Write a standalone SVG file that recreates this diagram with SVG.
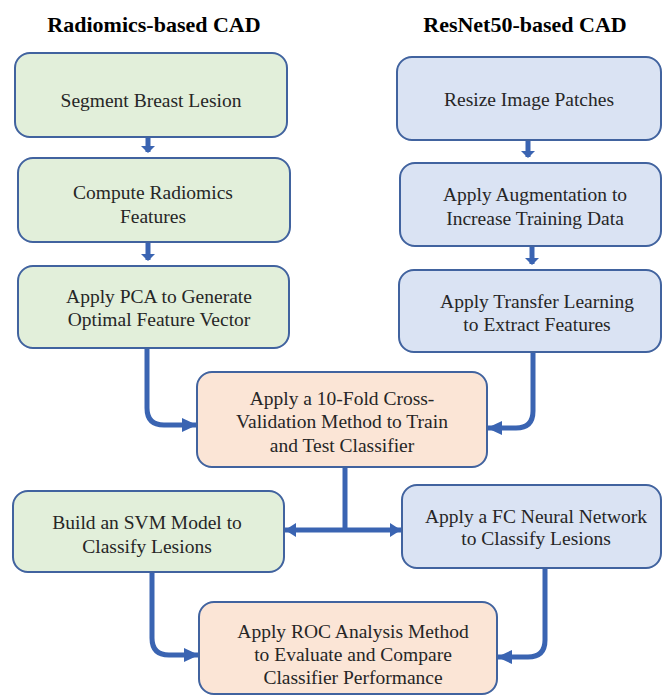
<svg xmlns="http://www.w3.org/2000/svg" width="664" height="695" viewBox="0 0 664 695">
<style>
.box{stroke:#41639f;stroke-width:2}
.g{fill:#e2efda}.b{fill:#dae3f3}.o{fill:#fbe5d6}
.t{font-family:'Liberation Serif','DejaVu Serif',serif;font-size:19.5px;fill:#262626;text-anchor:middle}
.h{font-family:'Liberation Serif','DejaVu Serif',serif;font-size:22px;font-weight:bold;fill:#000;text-anchor:middle}
.c{fill:none;stroke:#3a64b2;stroke-width:5}
</style>
<defs>
<marker id="big" markerUnits="userSpaceOnUse" markerWidth="16" markerHeight="16" refX="14" refY="8" orient="auto-start-reverse" viewBox="0 0 16 16"><path d="M0,1 L15,8 L0,15 Z" fill="#3a64b2"/></marker>
<marker id="mid" markerUnits="userSpaceOnUse" markerWidth="12" markerHeight="16" refX="11" refY="8" orient="auto-start-reverse" viewBox="0 0 12 16"><path d="M0,1 L11,8 L0,15 Z" fill="#3a64b2"/></marker>
<marker id="sm" markerUnits="userSpaceOnUse" markerWidth="12" markerHeight="14" refX="6" refY="7" orient="auto-start-reverse" viewBox="0 0 12 14"><path d="M0,0 L7,7 L0,14 Z" fill="#3a64b2"/></marker>
</defs>

<text class="h" x="154" y="32" font-family="Liberation Serif, serif">Radiomics-based CAD</text>
<text class="h" x="525" y="32" font-family="Liberation Serif, serif">ResNet50-based CAD</text>

<g id="connectors">
<path class="c" d="M148,137 V152" marker-end="url(#sm)"/>
<path class="c" d="M148,242 V260" marker-end="url(#sm)"/>
<path class="c" d="M528,140 V157" marker-end="url(#sm)"/>
<path class="c" d="M532,246 V264" marker-end="url(#sm)"/>
<path class="c" d="M147,348 V408 Q147,425 164,425 H196" marker-end="url(#big)"/>
<path class="c" d="M533,352 V411 Q533,428 516,428 H488" marker-end="url(#big)"/>
<path class="c" d="M345,467 V530"/>
<path class="c" d="M285,530 H401" marker-start="url(#mid)" marker-end="url(#mid)"/>
<path class="c" d="M152,572 V638 Q152,655 169,655 H198" marker-end="url(#big)"/>
<path class="c" d="M545,568 V640 Q545,657 528,657 H498" marker-end="url(#big)"/>
</g>

<g id="n1"><rect class="box g" x="15" y="53" width="272" height="84" rx="15"/><text class="t" x="151" y="107">Segment Breast Lesion</text></g>
<g id="n2"><rect class="box g" x="18" y="158" width="272" height="84" rx="15"/><text class="t" x="153" y="199">Compute Radiomics</text><text class="t" x="153" y="223">Features</text></g>
<g id="n3"><rect class="box g" x="18" y="266" width="271" height="82" rx="15"/><text class="t" x="159" y="303">Apply PCA to Generate</text><text class="t" x="159" y="326">Optimal Feature Vector</text></g>
<g id="n4"><rect class="box b" x="397" y="57" width="264" height="83" rx="15"/><text class="t" x="529" y="106">Resize Image Patches</text></g>
<g id="n5"><rect class="box b" x="400" y="163" width="261" height="83" rx="15"/><text class="t" x="535" y="201">Apply Augmentation to</text><text class="t" x="535" y="225">Increase Training Data</text></g>
<g id="n6"><rect class="box b" x="399" y="270" width="262" height="82" rx="15"/><text class="t" x="537" y="308">Apply Transfer Learning</text><text class="t" x="537" y="331">to Extract Features</text></g>
<g id="n7"><rect class="box o" x="197" y="372" width="290" height="95" rx="15"/><text class="t" x="342" y="405">Apply a 10-Fold Cross-</text><text class="t" x="342" y="428">Validation Method to Train</text><text class="t" x="342" y="452">and Test Classifier</text></g>
<g id="n8"><rect class="box g" x="13" y="491" width="271" height="81" rx="15"/><text class="t" x="147" y="529">Build an SVM Model to</text><text class="t" x="147" y="553">Classify Lesions</text></g>
<g id="n9"><rect class="box b" x="402" y="485" width="259" height="83" rx="15"/><text class="t" x="536" y="523">Apply a FC Neural Network</text><text class="t" x="536" y="545">to Classify Lesions</text></g>
<g id="n10"><rect class="box o" x="199" y="602" width="298" height="92" rx="15"/><text class="t" x="353" y="638">Apply ROC Analysis Method</text><text class="t" x="353" y="661">to Evaluate and Compare</text><text class="t" x="353" y="684">Classifier Performance</text></g>
</svg>
